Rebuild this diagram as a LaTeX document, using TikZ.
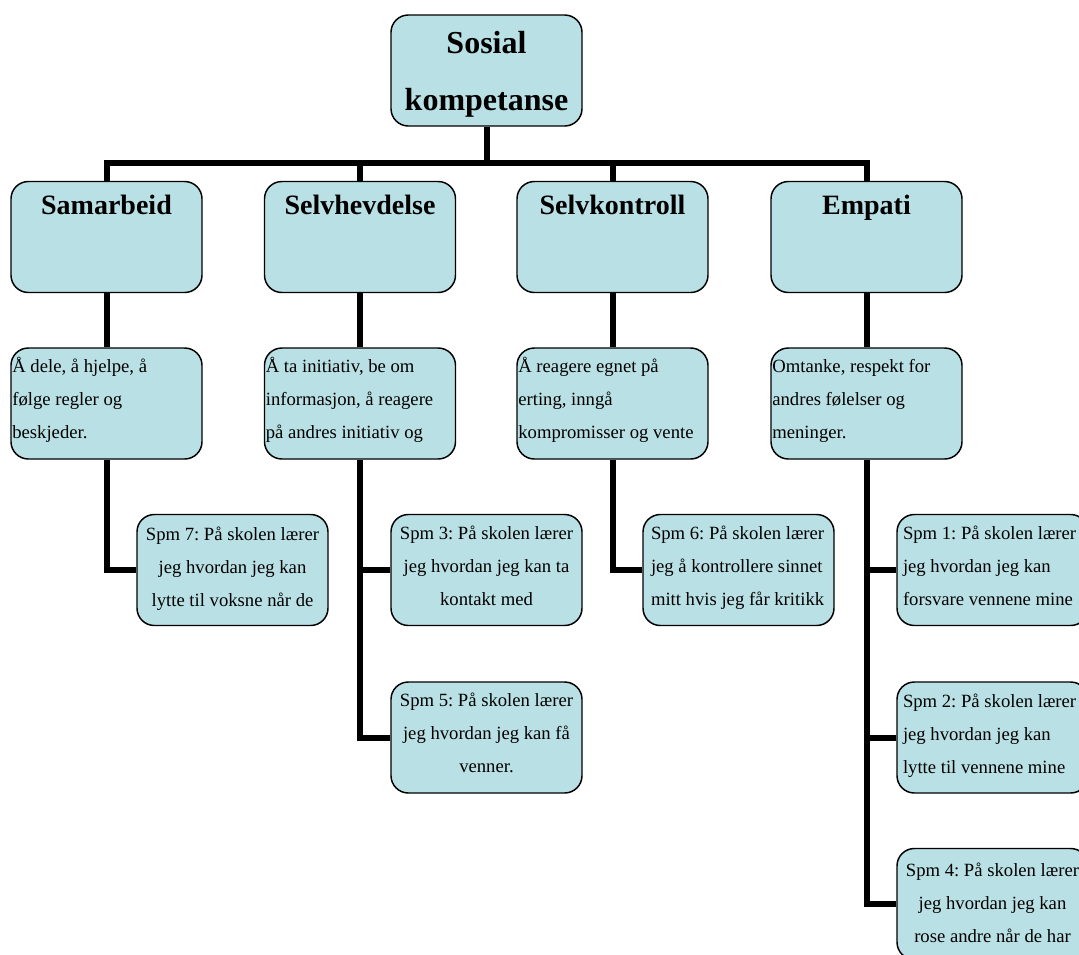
\documentclass[tikz,border=0pt]{standalone}
\usepackage{fontspec}
\setmainfont{Liberation Serif}
\usetikzlibrary{backgrounds}
\definecolor{boxfill}{RGB}{185,224,228}
\frenchspacing
% #1 first baseline, #2 alignment, #3 font, #4 text
\newcommand{\cellbox}[4]{\parbox[t][83.25pt][t]{143.25pt}{#3#2\rule{0pt}{#1}#4}}
\newcommand{\topfont}{\fontsize{24}{42.75}\selectfont\bfseries}
\newcommand{\ttlfont}{\fontsize{21}{30}\selectfont\bfseries}
\newcommand{\txtfont}{\fontsize{14}{24.75}\selectfont}
\newcommand{\lft}[1]{\raggedright\leftskip=#1\relax}
\tikzset{
  bx/.style={draw=black, fill=boxfill, rounded corners=13pt, line width=1.1pt,
             inner sep=0pt, anchor=center},
  conn/.style={draw=black, line width=4.5pt}
}
\begin{document}
\begin{tikzpicture}[x=0.75pt,y=-0.75pt]
\useasboundingbox (0,0) rectangle (1079,954);
\clip (0,0) rectangle (1079,954);
% connectors first (nodes drawn over them)
\coordinate (bar) at (486.5,163);
\coordinate (topS) at (486.5,126);
\coordinate (x1) at (106.5,0);
\coordinate (x2) at (360,0);
\coordinate (x3) at (612.5,0);
\coordinate (x4) at (866.5,0);
% top
\node[bx] (top) at (486.5,70.5) {\cellbox{28.5pt}{\centering}{\topfont}{Sosial\\kompetanse}};
% level 1
\node[bx] (c1) at (106.5,237) {\cellbox{24.75pt}{\centering}{\ttlfont}{Samarbeid}};
\node[bx] (c2) at (360,237) {\cellbox{24.75pt}{\centering}{\ttlfont}{Selvhevdelse}};
\node[bx] (c3) at (612.5,237) {\cellbox{24.75pt}{\centering}{\ttlfont}{Selvkontroll}};
\node[bx] (c4) at (866.5,237) {\cellbox{24.75pt}{\centering}{\ttlfont}{Empati}};
% level 2
\node[bx] (d1) at (106.5,403.5) {\cellbox{18pt}{\lft{1pt}}{\txtfont}{Å dele, å hjelpe, å\\følge regler og\\beskjeder.}};
\node[bx] (d2) at (360,403.5) {\cellbox{18pt}{\lft{1pt}}{\txtfont}{Å ta initiativ, be om\\informasjon, å reagere\\på andres initiativ og}};
\node[bx] (d3) at (612.5,403.5) {\cellbox{18pt}{\lft{1pt}}{\txtfont}{Å reagere egnet på\\erting, inngå\\kompromisser og vente}};
\node[bx] (d4) at (866.5,403.5) {\cellbox{18pt}{\lft{1pt}}{\txtfont}{Omtanke, respekt for\\andres følelser og\\meninger.}};
% level 3
\node[bx] (s7) at (232.5,570) {\cellbox{19.5pt}{\centering}{\txtfont}{Spm 7: På skolen lærer\\jeg hvordan jeg kan\\lytte til voksne når de}};
\node[bx] (s3) at (486.5,570) {\cellbox{18.5pt}{\centering}{\txtfont}{Spm 3: På skolen lærer\\jeg hvordan jeg kan ta\\kontakt med}};
\node[bx] (s5) at (486.5,737.5) {\cellbox{18.5pt}{\centering}{\txtfont}{Spm 5: På skolen lærer\\jeg hvordan jeg kan få\\venner.}};
\node[bx] (s6) at (738.5,570) {\cellbox{19pt}{\lft{6pt}}{\txtfont}{Spm 6: På skolen lærer\\jeg å kontrollere sinnet\\mitt hvis jeg får kritikk}};
\node[bx] (s1) at (992.5,570) {\cellbox{19pt}{\lft{4.5pt}}{\txtfont}{Spm 1: På skolen lærer\\jeg hvordan jeg kan\\forsvare vennene mine}};
\node[bx] (s2) at (992.5,737.5) {\cellbox{19pt}{\lft{4.5pt}}{\txtfont}{Spm 2: På skolen lærer\\jeg hvordan jeg kan\\lytte til vennene mine}};
\node[bx] (s4) at (992.5,904) {\cellbox{21pt}{\centering}{\txtfont}{Spm 4: På skolen lærer\\jeg hvordan jeg kan\\rose andre når de har}};
\begin{pgfonlayer}{background}
\draw[conn] (top.south) -- (top.south |- bar);
\draw[conn] (c1.north) -- (c1.north |- bar) -- (c4.north |- bar) -- (c4.north);
\draw[conn] (c2.north |- bar) -- (c2.north);
\draw[conn] (c3.north |- bar) -- (c3.north);
\draw[conn] (c1.south) -- (d1.north);
\draw[conn] (c2.south) -- (d2.north);
\draw[conn] (c3.south) -- (d3.north);
\draw[conn] (c4.south) -- (d4.north);
\draw[conn] (d1.south) |- (s7.west);
\draw[conn] (d2.south) |- (s5.west);
\draw[conn] (d2.south |- s3.west) -- (s3.west);
\draw[conn] (d3.south) |- (s6.west);
\draw[conn] (d4.south) |- (s4.west);
\draw[conn] (d4.south |- s1.west) -- (s1.west);
\draw[conn] (d4.south |- s2.west) -- (s2.west);
\end{pgfonlayer}
\end{tikzpicture}
\end{document}
